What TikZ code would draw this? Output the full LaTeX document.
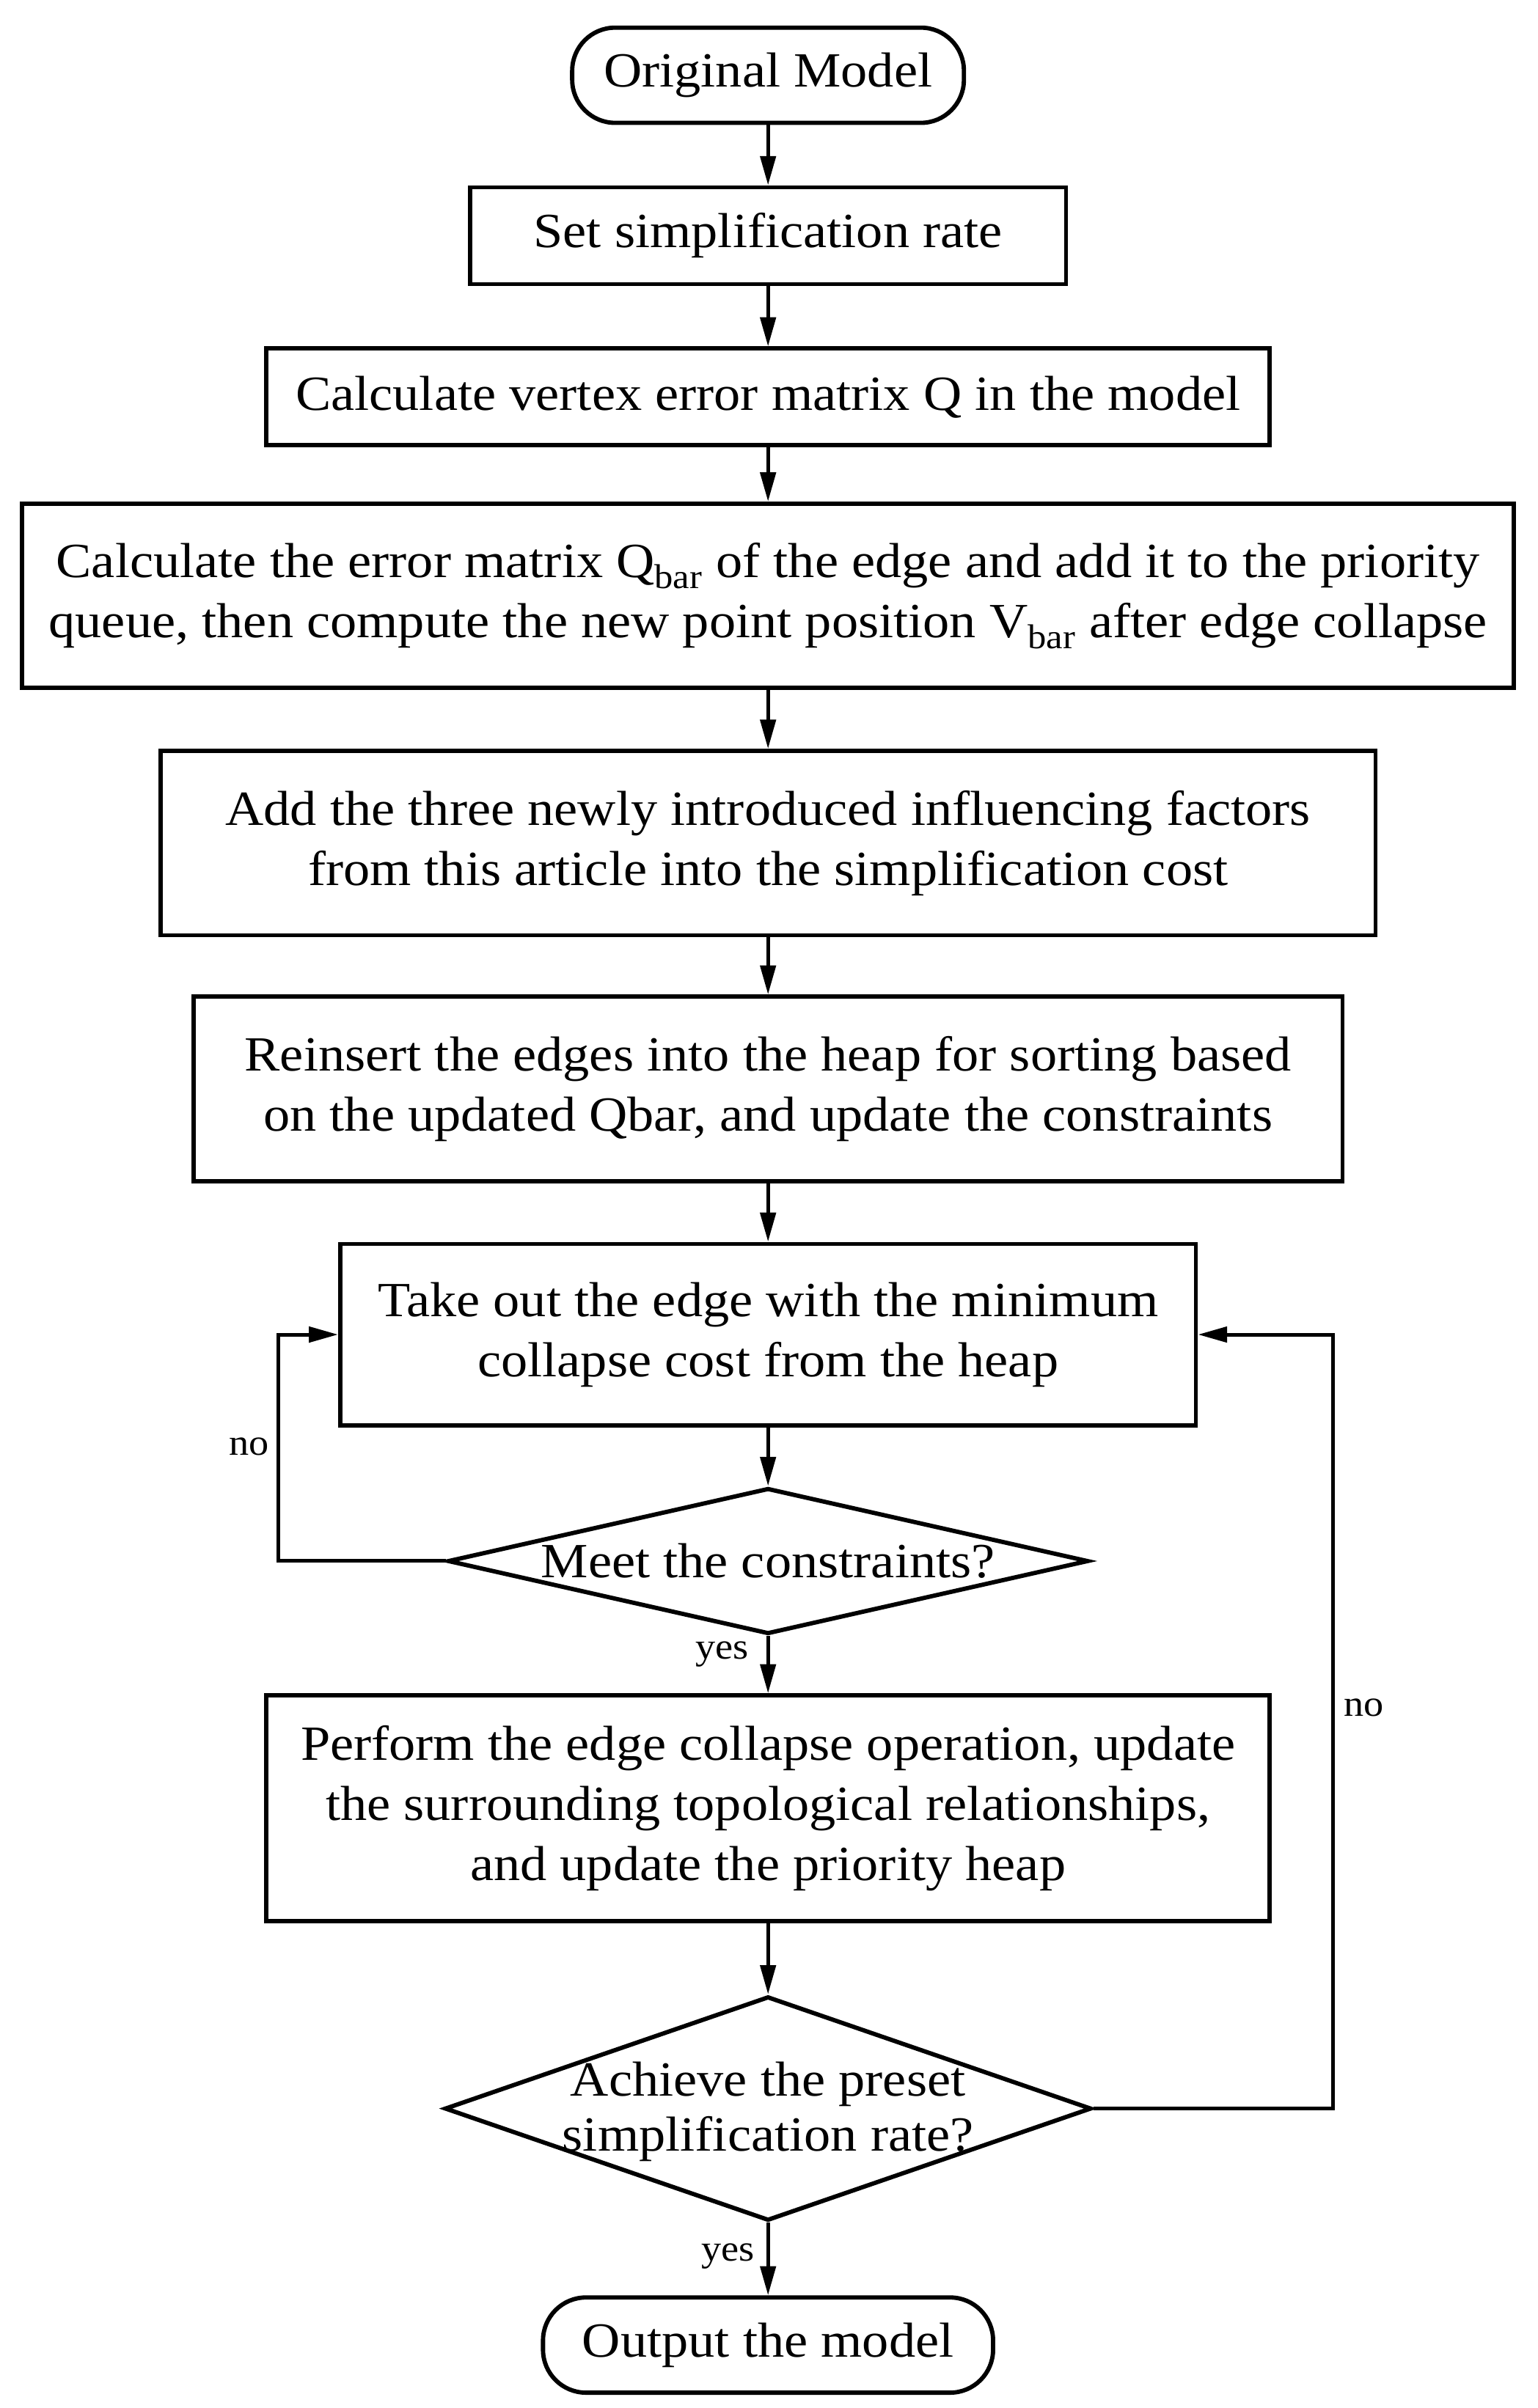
\documentclass[tikz,border=0pt]{standalone}
\usepackage{fontspec}
\setmainfont[FakeStretch=1.08]{Liberation Serif}
\usetikzlibrary{arrows.meta,shapes.geometric}
\begin{document}
\begin{tikzpicture}[x=1pt,y=1pt,
  box/.style={draw,line width=2.8pt,inner sep=0pt,align=center,font=\fontsize{32}{39}\selectfont},
  term/.style={box,rounded corners=28pt},
  dia/.style={draw,diamond,line width=2.8pt,inner sep=0pt,aspect=1},
  dtext/.style={align=center,inner sep=0pt,font=\fontsize{32}{36}\selectfont},
  arr/.style={line width=2.4pt,-{Triangle[length=19pt,width=10pt]}},
  lbl/.style={inner sep=0pt,font=\fontsize{24}{28}\selectfont}]
\useasboundingbox (0,0) rectangle (1001,-1568);
\node[term,minimum width=255,minimum height=62] (orig) at (500,-49) {Original Model};
\node[box,minimum width=388,minimum height=63] (set) at (500,-153.5) {Set simplification rate};
\node[box,minimum width=653,minimum height=63] (vert) at (500,-258.5) {Calculate vertex error matrix Q in the model};
\node[box,minimum width=971,minimum height=120] (qbar) at (500,-388) {Calculate the error matrix Q\textsubscript{bar} of the edge and add it to the priority\\queue, then compute the new point position V\textsubscript{bar} after edge collapse};
\node[box,minimum width=791,minimum height=120] (add) at (500,-549) {Add the three newly introduced influencing factors\\from this article into the simplification cost};
\node[box,minimum width=748,minimum height=120] (rein) at (500,-709) {Reinsert the edges into the heap for sorting based\\on the updated Qbar, and update the constraints};
\node[box,minimum width=557,minimum height=118] (take) at (500,-869) {Take out the edge with the minimum\\collapse cost from the heap};
\node[dia,minimum width=417,minimum height=95] (d1) at (500,-1016.5) {};
\node[dtext] (d1t) at (d1.center) {Meet the constraints?};
\node[box,minimum width=653,minimum height=147] (perf) at (500,-1177.5) {Perform the edge collapse operation, update\\the surrounding topological relationships,\\and update the priority heap};
\node[dia,minimum width=421,minimum height=146] (d2) at (500,-1373) {};
\node[dtext] (d2t) at ([yshift=-2pt]d2.center) {Achieve the preset\\simplification rate?};
\node[term,minimum width=293,minimum height=62] (out) at (500,-1527) {Output the model};
\draw[arr] (orig) -- (set);
\draw[arr] (set) -- (vert);
\draw[arr] (vert) -- (qbar);
\draw[arr] (qbar) -- (add);
\draw[arr] (add) -- (rein);
\draw[arr] (rein) -- (take);
\draw[arr] (take) -- (d1);
\draw[arr] (d1) -- (perf);
\draw[arr] (perf) -- (d2);
\draw[arr] (d2) -- (out);
\coordinate (lc) at (181,-1016.5);
\coordinate (rc) at (868,-1373);
\draw[arr] (d1.west) -- (lc) |- (take.west);
\draw[arr] (d2.east) -- (rc) |- (take.east);
\node[lbl] (no1) at (162,-942) {no};
\node[lbl] (no2) at (888,-1112) {no};
\node[lbl] (yes1) at (470,-1077) {yes};
\node[lbl] (yes2) at (474,-1469) {yes};
\end{tikzpicture}
\end{document}
